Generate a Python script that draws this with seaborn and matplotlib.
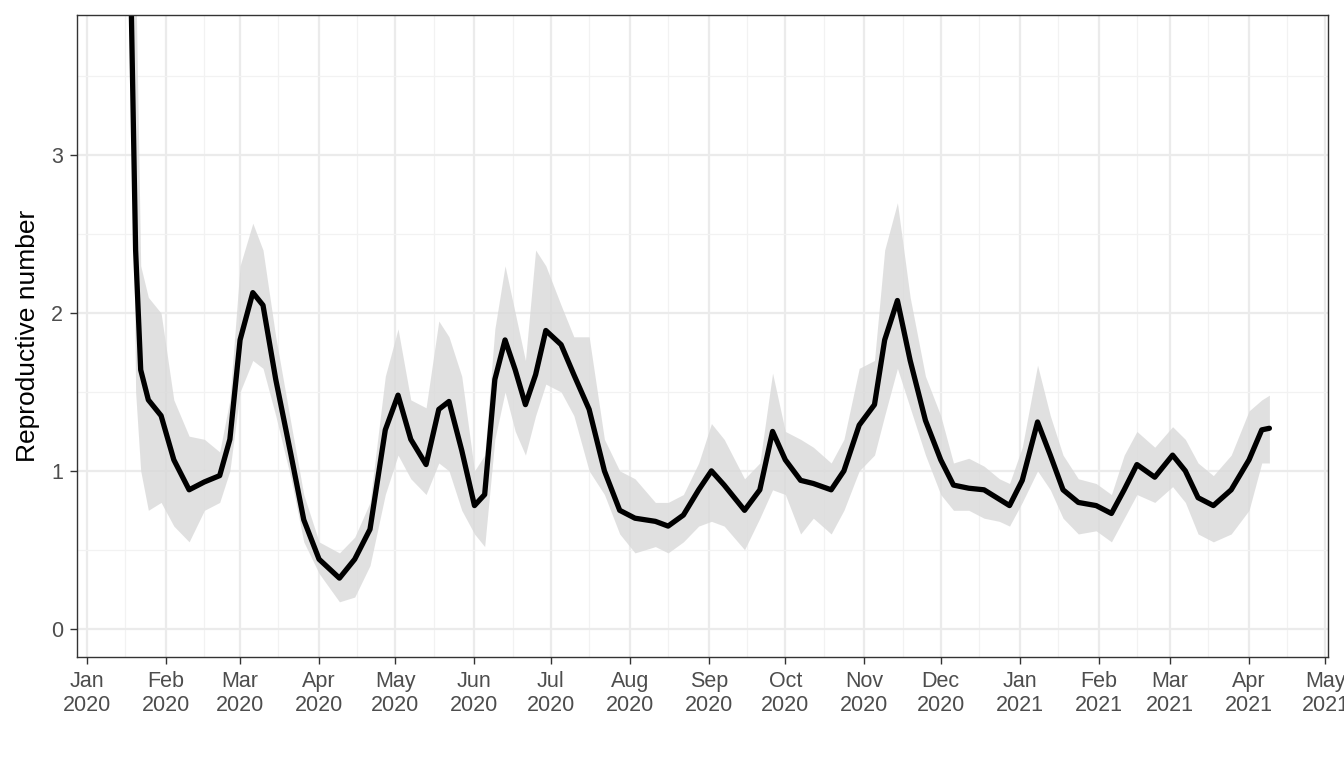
import numpy as np
import pandas as pd
import seaborn as sns
import matplotlib
matplotlib.use('Agg')
import matplotlib.pyplot as plt
import matplotlib.dates as mdates

# days since 2020-01-01
days = [17, 19, 21, 24, 29, 34, 40, 46, 52, 56, 60, 65, 69, 74, 80, 85, 91, 99, 105, 111,
        117, 122, 127, 133, 138, 142, 147, 152, 156, 160, 164, 168, 172, 176, 180, 186, 191,
        197, 203, 209, 215, 223, 228, 234, 240, 245, 250, 258, 264, 269, 274, 280, 285, 292,
        297, 303, 309, 313, 318, 323, 329, 335, 340, 346, 352, 358, 362, 367, 373, 378, 383,
        389, 396, 402, 407, 412, 419, 426, 431, 436, 442, 449, 456, 461, 464]
r_mean = [4.2, 2.4, 1.64, 1.45, 1.35, 1.07, 0.88, 0.93, 0.97, 1.2, 1.83, 2.13, 2.05, 1.58,
          1.1, 0.69, 0.44, 0.32, 0.44, 0.63, 1.26, 1.48, 1.2, 1.04, 1.39, 1.44, 1.13, 0.78,
          0.85, 1.58, 1.83, 1.64, 1.42, 1.61, 1.89, 1.8, 1.61, 1.39, 1.0, 0.75, 0.7, 0.68,
          0.65, 0.72, 0.88, 1.0, 0.91, 0.75, 0.88, 1.25, 1.07, 0.94, 0.92, 0.88, 1.0, 1.29,
          1.42, 1.83, 2.08, 1.7, 1.32, 1.07, 0.91, 0.89, 0.88, 0.82, 0.78, 0.94, 1.31, 1.1,
          0.88, 0.8, 0.78, 0.73, 0.88, 1.04, 0.96, 1.1, 1.0, 0.83, 0.78, 0.88, 1.07, 1.26, 1.27]
r_low = [4.2, 1.5, 1.0, 0.75, 0.8, 0.65, 0.55, 0.75, 0.8, 1.0, 1.5, 1.7, 1.65, 1.35, 0.95,
         0.55, 0.35, 0.17, 0.2, 0.4, 0.85, 1.1, 0.95, 0.85, 1.05, 1.0, 0.75, 0.6, 0.52, 1.2,
         1.5, 1.25, 1.1, 1.35, 1.55, 1.5, 1.35, 1.0, 0.85, 0.6, 0.48, 0.52, 0.48, 0.55, 0.65,
         0.68, 0.65, 0.5, 0.7, 0.88, 0.85, 0.6, 0.7, 0.6, 0.75, 1.0, 1.1, 1.35, 1.65, 1.4,
         1.1, 0.85, 0.75, 0.75, 0.7, 0.68, 0.65, 0.8, 1.0, 0.88, 0.7, 0.6, 0.62, 0.55, 0.7,
         0.85, 0.8, 0.9, 0.8, 0.6, 0.55, 0.6, 0.75, 1.05, 1.05]
r_high = [4.2, 4.2, 2.3, 2.1, 2.0, 1.45, 1.22, 1.2, 1.12, 1.45, 2.3, 2.57, 2.4, 1.85, 1.3,
          0.85, 0.55, 0.48, 0.58, 0.8, 1.6, 1.9, 1.45, 1.4, 1.95, 1.85, 1.6, 1.0, 1.1, 1.9,
          2.3, 2.0, 1.7, 2.4, 2.3, 2.05, 1.85, 1.85, 1.2, 1.0, 0.95, 0.8, 0.8, 0.85, 1.05,
          1.3, 1.2, 0.95, 1.05, 1.62, 1.25, 1.2, 1.15, 1.05, 1.2, 1.65, 1.7, 2.4, 2.7, 2.1,
          1.6, 1.35, 1.05, 1.08, 1.03, 0.95, 0.92, 1.15, 1.67, 1.35, 1.1, 0.95, 0.92, 0.85,
          1.1, 1.25, 1.15, 1.28, 1.2, 1.05, 0.97, 1.1, 1.38, 1.45, 1.48]

df = pd.DataFrame({
    'date': pd.Timestamp('2020-01-01') + pd.to_timedelta(days, unit='D'),
    'R': r_mean, 'lo': r_low, 'hi': r_high,
})

sns.set_theme(style='white')
plt.rcParams['font.family'] = ['Liberation Sans', 'DejaVu Sans']

fig = plt.figure(figsize=(13.44, 7.68), dpi=100)
ax = fig.add_axes([0.0573, 0.1445, 0.9308, 0.836])

ax.fill_between(df['date'], df['lo'], df['hi'], color='#d9d9d9', alpha=0.8, lw=0)
sns.lineplot(data=df, x='date', y='R', color='black', lw=3.8, ax=ax)
ax.lines[-1].set_solid_joinstyle('round')

ax.set_xlim(pd.Timestamp('2019-12-28'), pd.Timestamp('2021-05-02'))
ax.set_ylim(-0.18, 3.89)
ax.set_yticks([0, 1, 2, 3])
ax.set_yticks([0.5, 1.5, 2.5, 3.5], minor=True)
ax.xaxis.set_major_locator(mdates.MonthLocator())
ax.xaxis.set_major_formatter(mdates.DateFormatter('%b\n%Y'))
ax.xaxis.set_minor_locator(mdates.MonthLocator(bymonthday=16))
ax.grid(True, which='major', color='#ebebeb', lw=1.6)
ax.grid(True, which='minor', color='#f2f2f2', lw=0.9)
ax.set_axisbelow(True)
for s in ax.spines.values():
    s.set_color('#333333')
    s.set_linewidth(1)
ax.tick_params(axis='both', which='major', labelsize=15.5, labelcolor='#4d4d4d',
               color='#333333', length=5, width=1, pad=5, bottom=True, left=True)
ax.tick_params(which='minor', length=0)
ax.set_xlabel('')
ax.set_ylabel('Reproductive number', fontsize=19, color='black', labelpad=8)

fig.savefig('out.png', dpi=100)
